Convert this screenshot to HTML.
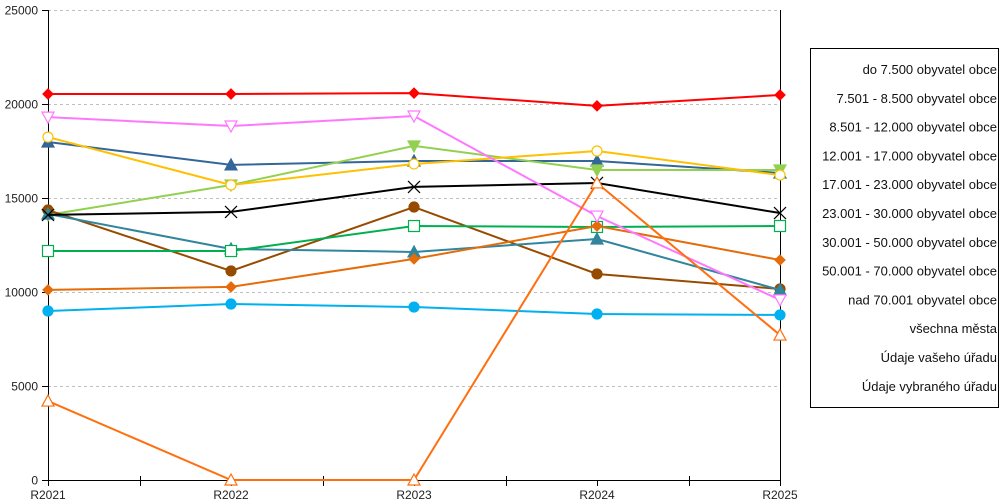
<!DOCTYPE html>
<html><head><meta charset="utf-8"><style>
html,body{margin:0;padding:0;background:#fff;width:1000px;height:500px;overflow:hidden}
svg{display:block;font-family:"Liberation Sans",sans-serif}
</style></head><body>
<svg id="chart" width="1000" height="500" xmlns="http://www.w3.org/2000/svg"></svg>
<script>
const categories = ["R2021","R2022","R2023","R2024","R2025"];
const yTicks = [0,5000,10000,15000,20000,25000];
const seriesNames = ["do 7.500 obyvatel obce","7.501 - 8.500 obyvatel obce","8.501 - 12.000 obyvatel obce","12.001 - 17.000 obyvatel obce","17.001 - 23.000 obyvatel obce","23.001 - 30.000 obyvatel obce","30.001 - 50.000 obyvatel obce","50.001 - 70.000 obyvatel obce","nad 70.001 obyvatel obce","všechna města","Údaje vašeho úřadu","Údaje vybraného úřadu"];
const sRed = [20530,20530,20580,19900,20480];
const sPink = [19300,18830,19360,14040,9580];
const sYellow = [18240,15690,16810,17500,16220];
const sSteel = [17980,16760,16970,16970,16330];
const sLime = [14100,15690,17770,16490,16490];
const sBlack = [14100,14260,15590,15800,14200];
const sBrown = [14360,11120,14520,10960,10160];
const sTeal = [14150,12290,12130,12820,10110];
const sGreen = [12180,12180,13510,13460,13510];
const sOrange = [10110,10270,11760,13510,11700];
const sCyan = [8990,9360,9200,8830,8780];
const sOrangeTri = [4200,0,0,15800,7710];

const series = [
 {name:"red",data:sRed,color:"#ff0000",m:"diamond",fill:true},
 {name:"steel",data:sSteel,color:"#336699",m:"tri",fill:true},
 {name:"lime",data:sLime,color:"#92d050",m:"tridown",fill:true},
 {name:"yellow",data:sYellow,color:"#ffc000",m:"circle",fill:false},
 {name:"brown",data:sBrown,color:"#964b00",m:"circle",fill:true},
 {name:"teal",data:sTeal,color:"#31859c",m:"tri",fill:true},
 {name:"green",data:sGreen,color:"#00b050",m:"square",fill:false},
 {name:"orange",data:sOrange,color:"#e46c0a",m:"diamond",fill:true},
 {name:"cyan",data:sCyan,color:"#00b0f0",m:"circle",fill:true},
 {name:"black",data:sBlack,color:"#000000",m:"x",fill:false},
 {name:"pink",data:sPink,color:"#ff77ff",m:"tridown",fill:false},
 {name:"orange-tri",data:sOrangeTri,color:"#ff6f0f",m:"tri",fill:false}
];
const NS="http://www.w3.org/2000/svg";
const svg=document.getElementById('chart');
const X0=48,X1=780,Y0=480,Y1=10,YMAX=25000;
const xs=i=>X0+i*(X1-X0)/(categories.length-1);
const ys=v=>Y0-v/YMAX*(Y0-Y1);
function mk(t,a,p){const e=document.createElementNS(NS,t);for(const k in a)e.setAttribute(k,a[k]);(p||svg).appendChild(e);return e;}
yTicks.forEach(v=>{
 const y=Math.round(ys(v))+0.5;
 if(v>0){const g=mk('line',{x1:X0,x2:X1,y1:y,y2:y,stroke:'#c0c0c0','stroke-dasharray':'3,3'});
 
 }
 mk('line',{x1:X0-6,x2:X0,y1:y,y2:y,stroke:'#000'});
 const t=mk('text',{x:X0-10,y:y+4,'text-anchor':'end','font-size':12,fill:'#222'});
 t.textContent=v;
 
 
});
mk('line',{x1:X0+0.5,x2:X0+0.5,y1:Y1,y2:Y0,stroke:'#000'});
mk('line',{x1:X1+0.5,x2:X1+0.5,y1:Y1,y2:Y0,stroke:'#000'});
mk('line',{x1:X0,x2:X1,y1:Y0+0.5,y2:Y0+0.5,stroke:'#000'});
categories.forEach((c,i)=>{
 const x=Math.round(xs(i))+0.5;
 mk('line',{x1:x,x2:x,y1:Y0,y2:Y0+6,stroke:'#000'});
 if(i<categories.length-1){const xm=Math.round((xs(i)+xs(i+1))/2)+0.5;mk('line',{x1:xm,x2:xm,y1:Y0-4,y2:Y0+6,stroke:'#000'});}
 const t=mk('text',{x:xs(i),y:Y0+19,'text-anchor':'middle','font-size':12,fill:'#222'});
 t.textContent=c;
 
 
});
function marker(g,s,x,y){
 const f=s.fill?s.color:'#fff',a={fill:f,stroke:s.color,'stroke-width':1.2};
 let e;
 if(s.m==='circle'){a.cx=x;a.cy=y;a.r=5;e=mk('circle',a,g);}
 else if(s.m==='square'){a.x=x-5.5;a.y=y-5.5;a.width=11;a.height=11;e=mk('rect',a,g);}
 else if(s.m==='diamond'){a.points=`${x},${y-5} ${x+5},${y} ${x},${y+5} ${x-5},${y}`;e=mk('polygon',a,g);}
 else if(s.m==='tri'){a.points=`${x},${y-6} ${x+6},${y+5} ${x-6},${y+5}`;e=mk('polygon',a,g);}
 else if(s.m==='tridown'){a.points=`${x-6},${y-5} ${x+6},${y-5} ${x},${y+6}`;e=mk('polygon',a,g);}
 else {e=mk('path',{d:`M${x-6},${y-6}L${x+6},${y+6}M${x+6},${y-6}L${x-6},${y+6}`,stroke:s.color,'stroke-width':1.2},g);}
 
 
}
series.forEach(s=>{
 const g=mk('g',{});
 
 
 const pl=mk('polyline',{points:s.data.map((v,i)=>xs(i)+','+ys(v)).join(' '),fill:'none',stroke:s.color,'stroke-width':2},g);
 
 
 s.data.forEach((v,i)=>marker(g,s,xs(i),ys(v)));
});
const lg=mk('g',{});


mk('rect',{x:810.5,y:48.5,width:188,height:359,fill:'#fff',stroke:'#000'},lg);
seriesNames.forEach((n,i)=>{
 const t=mk('text',{x:997,y:74+i*28.8,'text-anchor':'end','font-size':13,fill:'#111'},lg);
 t.textContent=n;
 
 
});
</script>
</body></html>
